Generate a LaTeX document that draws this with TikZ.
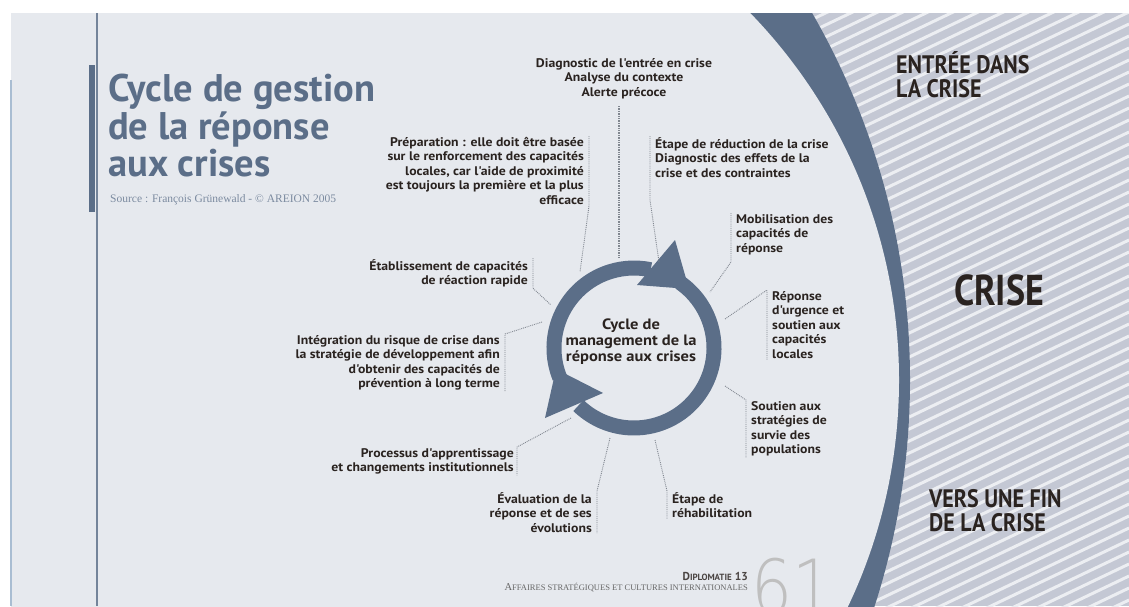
\documentclass[tikz,border=0pt]{standalone}
\usepackage{fontspec}
\setmainfont{PT Sans}
\newfontfamily\lblfont{PT Sans}[FakeStretch=1.1]
\newfontfamily\srcfont{Liberation Serif}
\IfFontExistsTF{DejaVu Sans ExtraLight}
  {\newfontfamily\thinfont{DejaVu Sans ExtraLight}}
  {\newfontfamily\thinfont{Liberation Sans}}
\usetikzlibrary{positioning}

\definecolor{panel}{HTML}{E6E9EE}
\definecolor{slate}{HTML}{5B6E88}
\definecolor{hatch}{HTML}{C4C8D4}
\definecolor{stripe}{HTML}{ECEEF2}
\definecolor{ink}{HTML}{2A2320}
\definecolor{leadgray}{HTML}{80868F}
\definecolor{edgeblue}{HTML}{A9BDD2}

\tikzset{
  lbl/.style={font=\lblfont\bfseries\fontsize{12.5}{14.5}\selectfont, text=ink, inner xsep=5pt, inner ysep=1pt},
  lead/.style={densely dotted, line width=0.9pt, leadgray},
  head/.style={font=\bfseries\fontsize{22}{24}\selectfont, text=ink, inner sep=0pt, align=left},
}

\begin{document}
\begin{tikzpicture}[x=1pt, y=-1pt]
\useasboundingbox (0,0) rectangle (1129,606);
\fill[white] (0,0) rectangle (1129,606);

% fond, hachures et bande courbe
\begin{scope}
  \clip (11,13) rectangle (1129,606);
  \fill[hatch] (11,13) rectangle (1129,606);
  \foreach \k in {0,...,72}
    \draw[stripe, line width=3pt] (700,13+12*\k) -- ++(429,-205);
  \fill[slate] (174,380) circle [radius=736];
  \fill[panel] (372,380) circle [radius=527];
\end{scope}
\draw[edgeblue, line width=2pt] (11,80) -- (11,606);
\draw[slate!85, line width=1.2pt] (97,13) -- (97,606);
\fill[slate] (89,65) rectangle (95,212);

% titre
\node[font=\bfseries\fontsize{38.5}{37.5}\selectfont, text=slate, inner sep=0pt,
  align=left, anchor=north west] (title) at (108,74)
  {Cycle de gestion\\de la réponse\\aux crises};
\node[font=\srcfont\fontsize{11.5}{12}\selectfont, text=slate!80, inner sep=0pt,
  anchor=west] (source) at (110,200) {Source : François Grünewald - © AREION 2005};

% cycle
\begin{scope}[shift={(634,348)}]
  \draw[slate, line width=15pt] (-202:80) arc[start angle=-202, end angle=-78, radius=80];
  \draw[slate, line width=15pt] (-55:80) arc[start angle=-55, end angle=134, radius=80];
\end{scope}
\fill[slate] (637,285) -- (675,240) -- (689,289) -- cycle;
\fill[slate] (603,393) -- (545,418) -- (556,369) -- cycle;
\node[font=\lblfont\bfseries\fontsize{15}{16}\selectfont, text=ink, align=center] (ctr) at (631,342)
  {Cycle de\\management de la\\réponse aux crises};

% etapes
\node[lbl, align=center, anchor=north] (diag) at (624,57)
  {Diagnostic de l'entrée en crise\\Analyse du contexte\\Alerte précoce};
\node[lbl, align=right, anchor=north east] (prep) at (589,136)
  {Préparation : elle doit être basée\\sur le renforcement des capacités\\locales, car l'aide de proximité\\est toujours la première et la plus\\efficace};
\node[lbl, align=left, anchor=north west] (reduc) at (650,136)
  {Étape de réduction de la crise\\Diagnostic des effets de la\\crise et des contraintes};
\node[lbl, align=left, anchor=north west] (mobil) at (731,213)
  {Mobilisation des\\capacités de\\réponse};
\node[lbl, align=right, anchor=north east] (etab) at (533,258)
  {Établissement de capacités\\de réaction rapide};
\node[lbl, align=right, anchor=north east] (integ) at (505,334)
  {Intégration du risque de crise dans\\la stratégie de développement afin\\d'obtenir des capacités de\\prévention à long terme};
\node[lbl, align=left, anchor=north west] (repon) at (767,290)
  {Réponse\\d'urgence et\\soutien aux\\capacités\\locales};
\node[lbl, align=left, anchor=north west] (soutien) at (746,400)
  {Soutien aux\\stratégies de\\survie des\\populations};
\node[lbl, align=right, anchor=north east, inner xsep=3pt] (proc) at (517,447)
  {Processus d'apprentissage\\et changements institutionnels};
\node[lbl, align=right, anchor=north east] (eval) at (597,491)
  {Évaluation de la\\réponse et de ses\\évolutions};
\node[lbl, align=left, anchor=north west] (rehab) at (667,491)
  {Étape de\\réhabilitation};

\coordinate (diag-s) at (619,106);
\coordinate (diag-e) at (619,258);
\coordinate (prep-e) at (580,272);
\coordinate (reduc-k) at (650,200);
\coordinate (reduc-e) at (659,262);
\coordinate (mobil-k) at (731,262);
\coordinate (mobil-e) at (710,292);
\coordinate (etab-e) at (551,305);
\coordinate (integ-e) at (542,322);
\coordinate (repon-e) at (725,319);
\coordinate (soutien-e) at (725,386);
\coordinate (proc-e) at (571,418);
\coordinate (eval-e) at (610,438);
\coordinate (rehab-e) at (655,440);

\draw[lead, line width=1.4pt] (diag-s) -- (diag-e);
\draw[lead] (prep.north east) -- (prep.south east) -- (prep-e);
\draw[lead] (reduc.north west) -- (reduc-k) -- (reduc-e);
\draw[lead] (mobil.north west) -- (mobil-k) -- (mobil-e);
\draw[lead] (etab.north east) -- (etab.south east) -- (etab-e);
\draw[lead] (integ-e) -- (integ.north east) -- (integ.south east);
\draw[lead] (repon-e) -- (repon.north west) -- (repon.south west);
\draw[lead] (soutien-e) -- (soutien.north west) -- (soutien.south west);
\draw[lead] (proc-e) -- (proc.north east) -- (proc.south east);
\draw[lead] (eval-e) -- (eval.north east) -- (eval.south east);
\draw[lead] (rehab-e) -- (rehab.north west) -- (rehab.south west);

% phases
\node[head, anchor=north west] (entree) at (896,51) {\scalebox{1}[1.15]{ENTRÉE DANS}\\\scalebox{1}[1.15]{LA CRISE}};
\node[font=\bfseries\fontsize{36}{36}\selectfont, text=ink, inner sep=0pt] (crise) at (999,290)
  {\scalebox{1}[1.2]{CRISE}};
\node[head, anchor=north west] (fin) at (929,489) {\scalebox{1}[1.15]{VERS UNE FIN}\\\scalebox{1}[1.15]{DE LA CRISE}};

% pied de page
\node[font=\bfseries\fontsize{11.5}{11.5}\selectfont, text=ink!85, inner sep=0pt, anchor=base east] (revue) at (748,580)
  {D{\fontsize{9}{9}\selectfont IPLOMATIE} 13};
\node[font=\srcfont\fontsize{10.5}{10.5}\selectfont, text=black!60, inner sep=0pt, anchor=base east] (sous) at (748,590)
  {A{\fontsize{8.5}{8.5}\selectfont FFAIRES STRATÉGIQUES ET CULTURES INTERNATIONALES}};
\node[font=\thinfont\fontsize{76}{76}\selectfont, text=black!25, inner sep=0pt, anchor=base west] (page) at (751,614)
  {\scalebox{0.85}[1]{61}};
\end{tikzpicture}
\end{document}
